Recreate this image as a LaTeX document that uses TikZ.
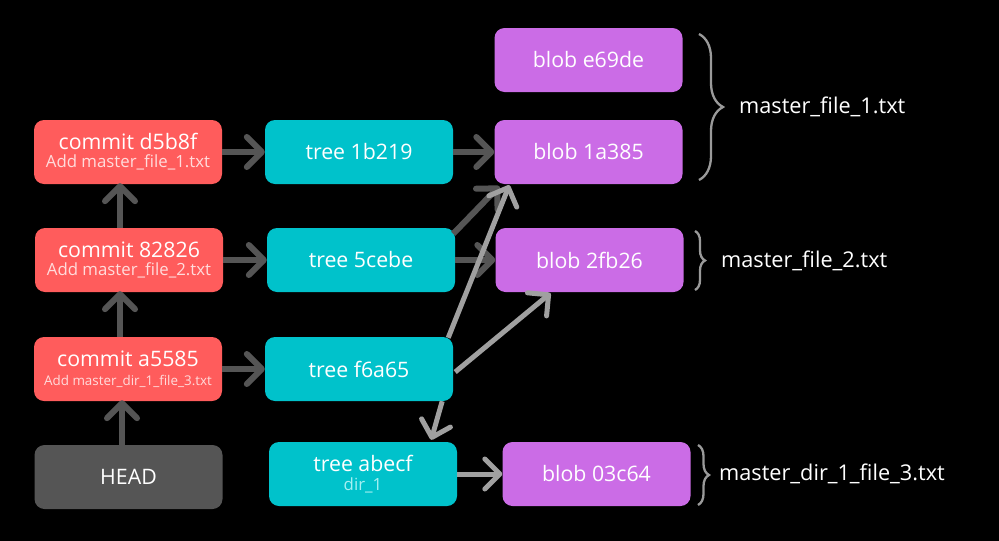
\documentclass[tikz,border=0pt]{standalone}
\usepackage{fontspec}
\setmainfont{Open Sans}
\usetikzlibrary{arrows.meta,calc,decorations.pathreplacing}
\definecolor{commitred}{HTML}{FF5C5C}
\definecolor{treecyan}{HTML}{00C2CB}
\definecolor{blobpurple}{HTML}{CB6CE6}
\definecolor{headgray}{HTML}{555555}
\definecolor{darkarrow}{HTML}{555555}
\definecolor{lightarrow}{HTML}{A0A0A0}
\definecolor{commitsub}{HTML}{FFDCDC}
\definecolor{treesub}{HTML}{A8F0F2}
\definecolor{bracegray}{HTML}{9A9A9A}
\newcommand{\mainsize}{\fontsize{21.3}{22}\selectfont}
\newcommand{\subsize}{\fontsize{16.8}{17}\selectfont}
\newcommand{\smallsubsize}{\fontsize{13.4}{15}\selectfont}
\tikzset{
  box/.style={rounded corners=10pt, minimum width=188pt, minimum height=64pt,
    inner sep=0pt, text=white, align=center, font=\mainsize},
  commitbox/.style={box, fill=commitred},
  treebox/.style={box, fill=treecyan},
  blobbox/.style={box, fill=blobpurple},
  headbox/.style={box, fill=headgray},
  arrowhd/.style={-{Straight Barb[length=15pt,width=30pt,line cap=round,line join=round]}},
  darklink/.style={arrowhd, draw=darkarrow, line width=6pt},
  lightlink/.style={arrowhd, draw=lightarrow, line width=5pt},
  bracestyle/.style={draw=bracegray, line width=2.3pt, decorate},
  filelabel/.style={anchor=west, text=white, font=\fontsize{21.7}{23}\selectfont, inner sep=0pt}
}
\begin{document}
\begin{tikzpicture}[x=1pt,y=-1pt]
\fill[black] (0,0) rectangle (999,541);
\useasboundingbox (0,0) rectangle (999,541);
% commits
\node[commitbox] (c1) at (128,152) {commit d5b8f\\[-4pt]{\subsize\color{commitsub}Add master\_file\_1.txt}};
\node[commitbox] (c2) at (129,260) {commit 82826\\[-4pt]{\subsize\color{commitsub}Add master\_file\_2.txt}};
\node[commitbox] (c3) at (128,369) {commit a5585\\[-3pt]{\smallsubsize\color{commitsub}Add master\_dir\_1\_file\_3.txt}};
\node[headbox] (head) at (128.5,477) {HEAD};
% trees
\node[treebox] (t1) at (359,152) {tree 1b219};
\node[treebox] (t2) at (361,260) {tree 5cebe};
\node[treebox] (t3) at (359,369) {tree f6a65};
\node[treebox] (t4) at (363,474) {tree abecf\\[-3pt]{\subsize\color{treesub}dir\_1}};
% blobs
\node[blobbox] (b0) at (588.5,60) {blob e69de};
\node[blobbox] (b1) at (588.5,152) {blob 1a385};
\node[blobbox] (b2) at (589.5,260) {blob 2fb26};
\node[blobbox] (b3) at (596.5,474) {blob 03c64};
% commit arrows
\draw[darklink] (c1.east) -- (t1.west);
\draw[darklink] (c2.east) -- (t2.west);
\draw[darklink] (c3.east) -- (t3.west);
\draw[darklink] ($(c2.north)+(-9,0)$) -- ($(c1.south)+(-8,-1)$);
\draw[darklink] ($(c3.north)+(-8,0)$) -- ($(c2.south)+(-9,-1)$);
\draw[darklink] ($(head.north)+(-6.5,0)$) -- ($(c3.south)+(-6,-1)$);
% tree to blob arrows
\draw[darklink] (t1.east) -- (b1.west);
\draw[darklink] (t2.east) -- (b2.west);
\draw[darklink] ($(t2.north east)+(-2,6)$) -- ($(b1.south west)+(5,2)$);
\draw[lightlink] ($(t3.north east)+(-5,1)$) -- ($(b1.south west)+(15,1)$);
\draw[lightlink] ($(t3.east)+(2,3)$) -- ($(b2.south)+(-39,1)$);
\draw[lightlink] ($(t3.south east)+(-11,0)$) -- ($(t4.north east)+(-26,-2)$);
\draw[lightlink] (t4.east) -- (b3.west);
% braces
\coordinate (br1a) at (699,34);
\coordinate (br1b) at (699,180);
\draw[bracestyle, decoration={brace, amplitude=24pt}] (br1a) -- (br1b);
\node[filelabel] (l1) at (739,107) {master\_file\_1.txt};
\coordinate (br2a) at (695,231);
\coordinate (br2b) at (695,290);
\draw[bracestyle, decoration={brace, amplitude=10pt}] (br2a) -- (br2b);
\node[filelabel] (l2) at (721,261) {master\_file\_2.txt};
\coordinate (br3a) at (698,445);
\coordinate (br3b) at (698,505);
\draw[bracestyle, decoration={brace, amplitude=11pt}] (br3a) -- (br3b);
\node[filelabel] (l3) at (719,474) {master\_dir\_1\_file\_3.txt};
\end{tikzpicture}
\end{document}
